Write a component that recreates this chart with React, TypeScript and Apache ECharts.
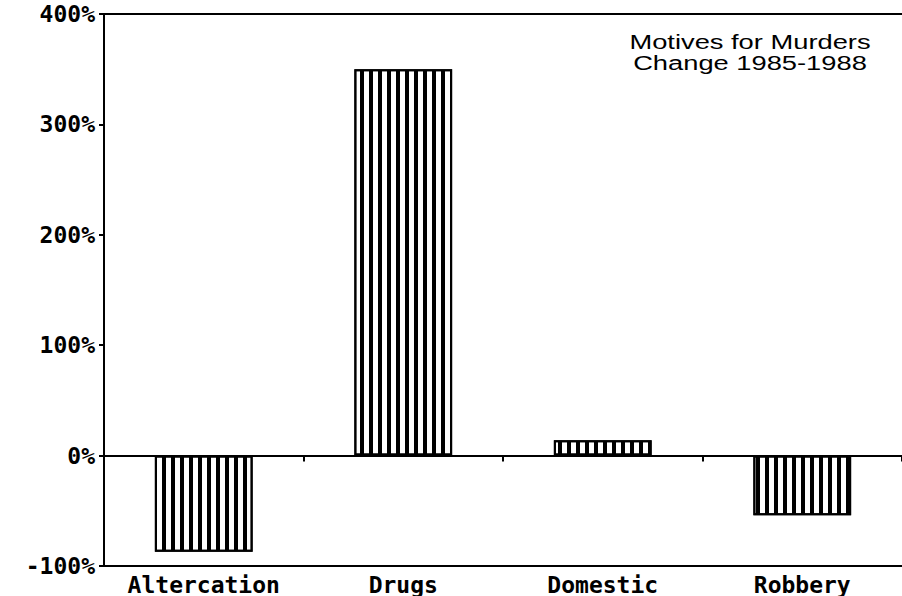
import React, { useEffect, useRef } from "react";
import * as echarts from "echarts";

const categories = ["Altercation", "Drugs", "Domestic", "Robbery"];
const changePct = [-87, 350, 14, -54];
const yTicks = [-100, 0, 100, 200, 300, 400];
const titleLines = ["Motives for Murders", "Change 1985-1988"];

export default function App() {
  const ref = useRef<HTMLDivElement>(null);
  useEffect(() => {
    if (!ref.current) return;
    const chart = echarts.init(ref.current, null, { renderer: "svg" });
    const mono = "DejaVu Sans Mono";
    const lineStyle = { color: "#000", width: 2 };
    chart.setOption({
      animation: false,
      backgroundColor: "#fff",
      grid: { left: 104, top: 14, width: 802, height: 553, containLabel: false },
      graphic: [
        {
          type: "text",
          x: 750,
          y: 31,
          scaleX: 1.3,
          style: {
            text: titleLines.join("\n"),
            align: "center",
            verticalAlign: "top",
            font: "500 21px 'Liberation Sans'",
            lineHeight: 21,
            fill: "#000",
          },
        },
      ],
      xAxis: [
        {
          type: "category",
          data: categories,
          position: "bottom",
          axisLine: { onZero: false, lineStyle },
          axisTick: { show: false },
          axisLabel: {
            color: "#000",
            fontFamily: mono,
            fontWeight: "bold",
            fontSize: 23,
            margin: 7,
          },
        },
        {
          type: "category",
          data: categories,
          position: "top",
          axisLine: { onZero: false, lineStyle },
          axisTick: { show: false },
          axisLabel: { show: false },
        },
        {
          type: "category",
          data: categories,
          position: "bottom",
          axisLine: { onZero: true, lineStyle },
          axisTick: { show: true, length: 6, lineStyle },
          axisLabel: { show: false },
        },
      ],
      yAxis: {
        type: "value",
        min: yTicks[0],
        max: yTicks[yTicks.length - 1],
        interval: 100,
        axisLine: { show: true, onZero: false, lineStyle },
        axisTick: { show: true, length: 5, lineStyle },
        splitLine: { show: false },
        axisLabel: {
          formatter: "{value}%",
          color: "#000",
          fontFamily: mono,
          fontWeight: "bold",
          fontSize: 23,
          margin: 9,
        },
      },
      series: [
        {
          type: "bar",
          xAxisIndex: 0,
          data: changePct,
          barWidth: "49%",
          itemStyle: {
            color: "#fff",
            borderColor: "#000",
            borderWidth: 2,
            decal: {
              symbol: "rect",
              symbolSize: 1,
              symbolKeepAspect: false,
              color: "#000",
              backgroundColor: "#fff",
              dashArrayX: [4, 5],
              dashArrayY: [8, 0],
              rotation: 0,
            },
          },
        },
      ],
    });
    return () => chart.dispose();
  }, []);
  return (
    <div
      ref={ref}
      style={{ position: "fixed", left: 0, top: 0, width: 902, height: 596, background: "#fff" }}
    />
  );
}
